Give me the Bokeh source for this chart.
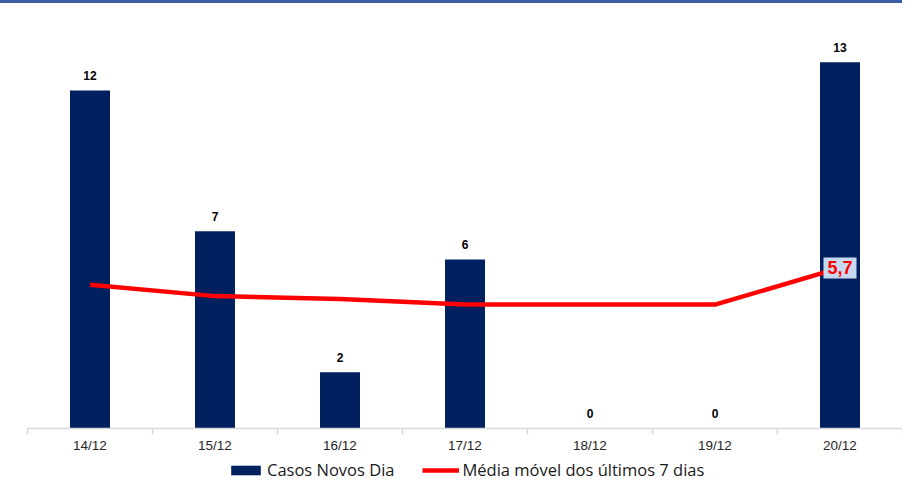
from bokeh.plotting import figure
from bokeh.models import ColumnDataSource, Range1d, FixedTicker, Legend, LegendItem, Label, LabelSet
from bokeh.layouts import column
from bokeh.core.properties import value
from bokeh.embed import file_html
from bokeh.resources import INLINE

dates = ["14/12", "15/12", "16/12", "17/12", "18/12", "19/12", "20/12"]
casos = [12, 7, 2, 6, 0, 0, 13]
media = [5.1, 4.7, 4.6, 4.4, 4.4, 4.4, 5.7]
serie_barras = "Casos Novos Dia"
serie_linha = "Média móvel dos últimos 7 dias"

BAR_COLOR = "#002060"
LINE_COLOR = "#FF0000"

idx = list(range(len(dates)))
src = ColumnDataSource(dict(x=idx, casos=casos, media=media, lbl=[str(c) for c in casos]))

p = figure(width=902, height=453, output_backend="svg", toolbar_location=None,
           x_range=Range1d(-0.5, len(dates) - 0.5), y_range=Range1d(0, 14.77),
           min_border_left=27, min_border_right=0, min_border_top=9, min_border_bottom=28)
p.outline_line_color = None
p.background_fill_color = "white"
p.border_fill_color = "white"
p.grid.visible = False
p.yaxis.visible = False

p.vbar(x="x", top="casos", width=0.32, source=src, fill_color=BAR_COLOR, line_color=None)
p.line(x="x", y="media", source=src, line_color=LINE_COLOR, line_width=4.5)

labels = LabelSet(x="x", y="casos", text="lbl", source=src, text_align="center",
                  text_baseline="middle", y_offset=15, text_font=value("Liberation Sans"),
                  text_font_style="bold", text_font_size="12px", text_color="black")
p.add_layout(labels)

last = Label(x=idx[-1], y=media[-1], text=f"{media[-1]:.1f}".replace(".", ","),
             text_align="center", text_baseline="middle", text_font="Liberation Sans",
             text_font_style="bold", text_font_size="18px", text_color=LINE_COLOR,
             background_fill_color="#C5D9F1", padding=4)
p.add_layout(last)

ax = p.xaxis[0]
ax.ticker = FixedTicker(ticks=idx, minor_ticks=[i - 0.5 for i in range(len(dates) + 1)])
ax.major_label_overrides = {i: d for i, d in enumerate(dates)}
ax.major_tick_line_color = None
ax.minor_tick_line_color = "#d9d9d9"
ax.minor_tick_out = 6
ax.minor_tick_in = 0
ax.minor_tick_line_width = 1.5
ax.axis_line_color = "#d9d9d9"
ax.axis_line_width = 1.5
ax.major_label_text_font = "Liberation Sans"
ax.major_label_text_font_size = "13.5px"
ax.major_label_text_color = "#262626"
ax.major_label_standoff = 3

# legend strip below the chart (same series, hidden renderers used only for the swatches)
p2 = figure(width=902, height=27, output_backend="svg", toolbar_location=None,
            x_range=Range1d(-0.5, len(dates) - 0.5), y_range=Range1d(0, 14.77),
            x_axis_type=None, y_axis_type=None,
            min_border_left=27, min_border_right=0, min_border_top=0, min_border_bottom=0)
p2.outline_line_color = None
p2.grid.visible = False
r_bar = p2.vbar(x="x", top="casos", width=0.32, source=src, fill_color=BAR_COLOR, line_color=None)
r_line = p2.line(x="x", y="media", source=src, line_color=LINE_COLOR, line_width=4.5)
r_bar.visible = False
r_line.visible = False
legend = Legend(items=[LegendItem(label=serie_barras, renderers=[r_bar]),
                       LegendItem(label=serie_linha, renderers=[r_line])],
                orientation="horizontal", location=(200, 2), border_line_color=None,
                background_fill_alpha=0, label_text_font="Open Sans", label_text_font_size="16.5px",
                label_text_color="#1a1a1a", inactive_fill_alpha=0,
                glyph_width=37, glyph_height=12, spacing=28, label_standoff=3,
                margin=0, padding=0)
p2.add_layout(legend)

layout = column(p, p2, spacing=0, styles={"border-top": "3px solid #3B5BA5"})

open("out.html", "w").write(file_html(layout, INLINE))
